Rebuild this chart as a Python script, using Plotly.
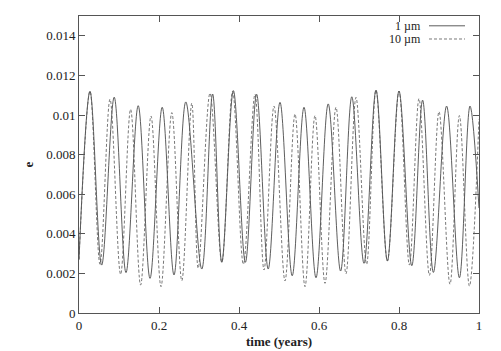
import plotly.graph_objects as go

# 1 µm series: start, alternating extrema, end  (time in years, e)
t_1um = [0.0, 0.0275, 0.0567, 0.088, 0.1175, 0.148, 0.1775, 0.208, 0.2375, 0.267, 0.307,
         0.334, 0.357, 0.386, 0.416, 0.444, 0.473, 0.5025, 0.533, 0.5625, 0.5925, 0.623,
         0.654, 0.682, 0.7125, 0.7425, 0.771, 0.80, 0.832, 0.859, 0.886, 0.919, 0.951,
         0.9775, 1.0]
e_1um = [0.0027, 0.0112, 0.00242, 0.0109, 0.00204, 0.01047, 0.00175, 0.01039, 0.00192,
         0.01066, 0.00222, 0.01106, 0.00256, 0.01123, 0.00256, 0.01105, 0.00222, 0.01064,
         0.00188, 0.01039, 0.00178, 0.01056, 0.00212, 0.01092, 0.00251, 0.01126, 0.00263,
         0.01121, 0.00239, 0.01075, 0.00205, 0.01045, 0.00178, 0.01045, 0.0053]

# 10 µm series
t_10um = [0.0, 0.0275, 0.0525, 0.0775, 0.104, 0.129, 0.154, 0.18, 0.205, 0.232, 0.257,
          0.282, 0.298, 0.3275, 0.357, 0.384, 0.411, 0.44, 0.4625, 0.4875, 0.515, 0.54,
          0.565, 0.59, 0.615, 0.6425, 0.6675, 0.6925, 0.719, 0.7425, 0.771, 0.80, 0.826,
          0.85, 0.876, 0.90, 0.9275, 0.951, 0.976, 1.0]
e_10um = [0.0027, 0.0112, 0.00246, 0.0108, 0.00195, 0.01029, 0.00141, 0.00995, 0.00133,
          0.01012, 0.00163, 0.0106, 0.00226, 0.0111, 0.00256, 0.0112, 0.00246, 0.01105,
          0.00217, 0.01045, 0.00162, 0.01005, 0.00133, 0.00997, 0.0015, 0.01039, 0.00198,
          0.01089, 0.00246, 0.01126, 0.00263, 0.01121, 0.00242, 0.01083, 0.0019, 0.01017,
          0.00145, 0.00997, 0.00136, 0.0098]

x_ticks = [0, 0.2, 0.4, 0.6, 0.8, 1.0]
x_labels = ["0", "0.2", "0.4", "0.6", "0.8", "1"]
y_ticks = [0, 0.002, 0.004, 0.006, 0.008, 0.010, 0.012, 0.014]
y_labels = ["0", "0.002", "0.004", "0.006", "0.008", "0.01", "0.012", "0.014"]

FONT = "Liberation Serif"

fig = go.Figure()
fig.add_trace(go.Scatter(x=t_1um, y=e_1um, mode="lines", name="1 µm",
                         line=dict(color="#333333", width=0.8, shape="spline", smoothing=1.0)))
fig.add_trace(go.Scatter(x=t_10um, y=e_10um, mode="lines", name="10 µm",
                         line=dict(color="#555555", width=0.8, dash="3px,2px",
                                   shape="spline", smoothing=1.0)))

axis_common = dict(showline=True, linecolor="#555555", linewidth=1, mirror="ticks",
                   ticks="inside", ticklen=6, tickcolor="#555555", showgrid=False,
                   zeroline=False, tickfont=dict(family=FONT, size=13, color="#222222"))

fig.update_xaxes(range=[0, 1], tickvals=x_ticks, ticktext=x_labels, **axis_common)
fig.update_yaxes(range=[0, 0.015], tickvals=y_ticks, ticktext=y_labels, **axis_common)

annotations = [
    dict(text="<b>e</b>", x=-0.1275, y=0.5, xref="paper", yref="paper", showarrow=False,
         xanchor="center", yanchor="middle",
         textangle=-90, font=dict(family=FONT, size=13, color="#222222")),
    dict(text="<b>time (years)</b>", x=0.5, y=-0.0976, xref="paper", yref="paper",
         xanchor="center", yanchor="middle",
         showarrow=False, font=dict(family=FONT, size=13, color="#222222")),
    dict(text="1 µm", x=0.86, y=0.967, xref="paper", yref="paper", showarrow=False,
         xanchor="right", yanchor="middle", font=dict(family=FONT, size=12, color="#222222")),
    dict(text="10 µm", x=0.86, y=0.9226, xref="paper", yref="paper", showarrow=False,
         xanchor="right", yanchor="middle", font=dict(family=FONT, size=12, color="#222222")),
]
shapes = [
    dict(type="line", xref="paper", yref="paper", x0=0.875, x1=0.965, y0=0.967, y1=0.967,
         line=dict(color="#333333", width=0.8)),
    dict(type="line", xref="paper", yref="paper", x0=0.875, x1=0.965, y0=0.9226, y1=0.9226,
         line=dict(color="#555555", width=0.8, dash="3px,2px")),
]

# page body has an 8px margin, so the figure is offset by 8px
fig.update_layout(width=493, height=343, margin=dict(l=71, r=22, t=8, b=38),
                  paper_bgcolor="white", plot_bgcolor="white", showlegend=False,
                  annotations=annotations, shapes=shapes)

fig.write_html("out.html")
